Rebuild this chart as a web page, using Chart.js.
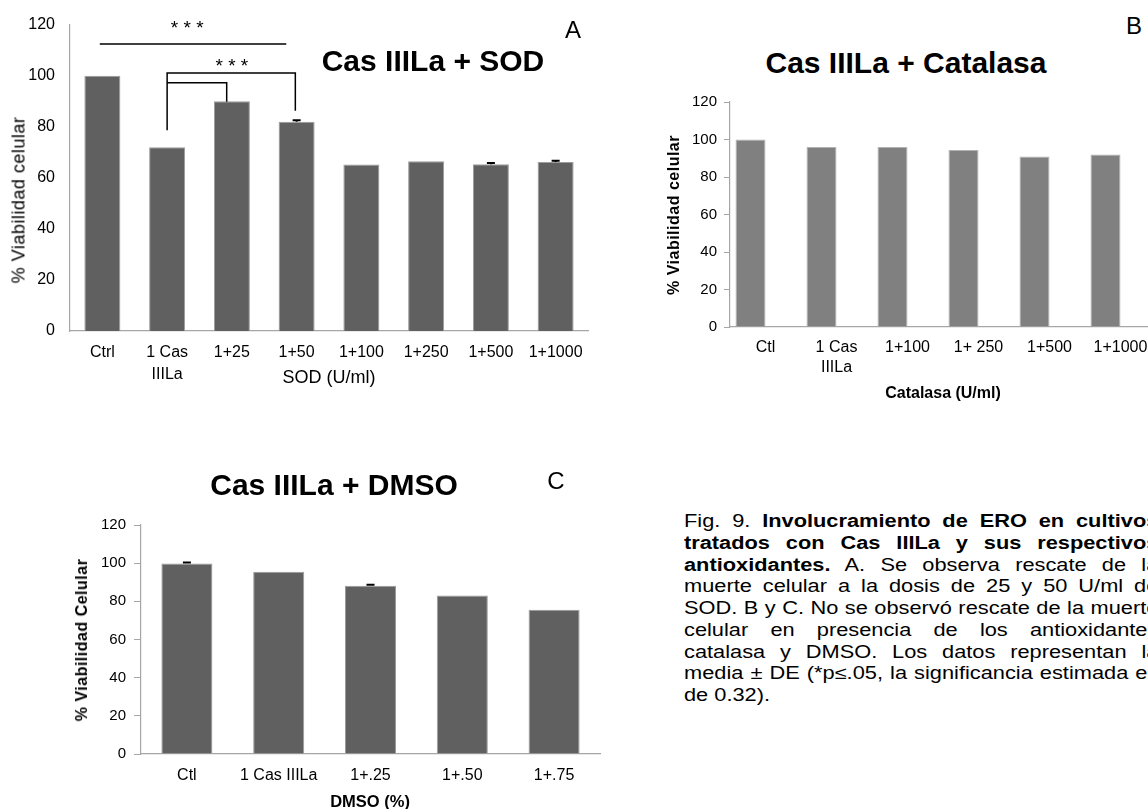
<!DOCTYPE html>
<html>
<head>
<meta charset="utf-8">
<script src="https://cdn.jsdelivr.net/npm/chart.js@4.4.1/dist/chart.umd.min.js"></script>
<style>
  html, body { margin: 0; padding: 0; width: 1148px; height: 809px; overflow: hidden; background: #fff; }
  body { position: relative; font-family: 'Liberation Sans', Arial, sans-serif; color: #000; }
  canvas { position: absolute; display: block; }
  .t { position: absolute; white-space: nowrap; transform: translate(-50%, -50%); z-index: 2; }
  .ttl { font-weight: bold; font-size: 30px; }
  .let { font-size: 24px; }
  .rot { transform: translate(-50%, -50%) rotate(-90deg); }
  #cap { position: absolute; left: 684px; top: 511px; font-size: 17.5px; line-height: 21.75px;
         transform: scaleX(1.245); transform-origin: 0 0; z-index: 2; }
  #cap div { width: 381px; text-align: justify; text-align-last: justify; }
  #cap div.end { text-align-last: left; }
</style>
</head>
<body>
<canvas id="chartA" width="600" height="400" style="left:0;top:0"></canvas>
<canvas id="chartB" width="560" height="330" style="left:620px;top:80px"></canvas>
<canvas id="chartC" width="620" height="309" style="left:0;top:500px"></canvas>

<div class="t ttl" style="left:433px;top:61px">Cas IIILa + SOD</div>
<div class="t let" style="left:573px;top:30px">A</div>
<div class="t rot" style="left:19px;top:200px;font-size:18px;letter-spacing:0.5px">% Viabilidad celular</div>
<div class="t" style="left:329px;top:377px;font-size:18px">SOD (U/ml)</div>

<div class="t ttl" style="left:906px;top:63px">Cas IIILa + Catalasa</div>
<div class="t let" style="left:1134px;top:26px">B</div>
<div class="t rot" style="left:674px;top:215px;font-size:16px;font-weight:bold;letter-spacing:0.5px">% Viabilidad celular</div>
<div class="t" style="left:943px;top:393px;font-size:16px;font-weight:bold">Catalasa (U/ml)</div>

<div class="t ttl" style="left:334px;top:485px">Cas IIILa + DMSO</div>
<div class="t let" style="left:556px;top:481px">C</div>
<div class="t rot" style="left:82px;top:640px;font-size:16px;font-weight:bold;letter-spacing:0.5px">% Viabilidad Celular</div>
<div class="t" style="left:370px;top:801px;font-size:16.5px;font-weight:bold">DMSO (%)</div>

<div id="cap">
  <div>Fig. 9. <b>Involucramiento de ERO en cultivos</b></div>
  <div><b>tratados con Cas IIILa y sus respectivos</b></div>
  <div><b>antioxidantes.</b> A. Se observa rescate de la</div>
  <div>muerte celular a la dosis de 25 y 50 U/ml de</div>
  <div>SOD. B y C. No se observó rescate de la muerte</div>
  <div>celular en presencia de los antioxidantes</div>
  <div>catalasa y DMSO. Los datos representan la</div>
  <div>media ± DE (*p≤.05, la significancia estimada es</div>
  <div class="end">de 0.32).</div>
</div>

<script>
// Valores (% viabilidad celular)
const yMin = 0;
const yMax = 120;
const yStep = 20;

const sodLabels = ['Ctrl', ['1 Cas', 'IIILa'], '1+25', '1+50', '1+100', '1+250', '1+500', '1+1000'];
const sodValues = [100, 72, 90, 82, 65.2, 66.5, 65.3, 66.2];
const sodErrors = [0, 0, 0, 0.5, 0, 0, 0.5, 0.5];

// Líneas de significancia: puntos en (índice de categoría, valor)
const sodSigLines = [
  [[-0.04, 112.4], [2.84, 112.4]],
  [[1, 78.6], [1, 101], [2.98, 101], [2.98, 86.3]],
  [[1, 97.2], [1.92, 97.2], [1.92, 89.8]],
];
const sodSigStars = [[1.31, 116.2], [2.0, 101.6]];

const catLabels = ['Ctl', ['1 Cas', 'IIILa'], '1+100', '1+ 250', '1+500', '1+1000'];
const catValues = [100, 96, 96, 94.4, 91, 92];
const catBlank = [null, null, null, null, null, null];

const dmsoLabels = ['Ctl', '1 Cas IIILa', '1+.25', '1+.50', '1+.75'];
const dmsoValues = [99.8, 95.5, 88.2, 83, 75.6];
const dmsoErrors = [0.5, 0, 0.5, 0, 0];

const FONT = "'Liberation Sans', Arial, sans-serif";
const AXIS = '#a6a6a6';

// Barras de error: solo la parte superior, como en Excel.
const errorBars = {
  id: 'errorBars',
  afterDatasetsDraw(chart, args, opts) {
    if (!opts.errors) return;
    const meta = chart.getDatasetMeta(0);
    const ys = chart.scales.y;
    const ctx = chart.ctx;
    ctx.save();
    ctx.strokeStyle = '#000';
    ctx.lineWidth = 2;
    meta.data.forEach((bar, i) => {
      const e = opts.errors[i];
      if (!e) return;
      const v = chart.data.datasets[0].data[i];
      const top = ys.getPixelForValue(v + e);
      ctx.beginPath();
      ctx.moveTo(bar.x, ys.getPixelForValue(v));
      ctx.lineTo(bar.x, top);
      ctx.moveTo(bar.x - 4, top);
      ctx.lineTo(bar.x + 4, top);
      ctx.stroke();
    });
    ctx.restore();
  },
};

const sigMarks = {
  id: 'sigMarks',
  afterDraw(chart, args, opts) {
    if (!opts.lines) return;
    const { x, y } = chart.scales;
    const ctx = chart.ctx;
    ctx.save();
    ctx.strokeStyle = '#000';
    ctx.lineWidth = 1.5;
    opts.lines.forEach((pts) => {
      ctx.beginPath();
      pts.forEach(([cx, cy], k) => {
        const px = x.getPixelForValue(cx);
        const py = y.getPixelForValue(cy);
        if (k) ctx.lineTo(px, py); else ctx.moveTo(px, py);
      });
      ctx.stroke();
    });
    ctx.fillStyle = '#000';
    ctx.font = '19px ' + FONT;
    ctx.textAlign = 'center';
    ctx.textBaseline = 'alphabetic';
    opts.stars.forEach(([cx, cy]) => ctx.fillText('* * *', x.getPixelForValue(cx), y.getPixelForValue(cy)));
    ctx.restore();
  },
};

function makeChart(id, cfg) {
  return new Chart(document.getElementById(id), {
    type: 'bar',
    data: { labels: cfg.labels, datasets: cfg.datasets },
    plugins: [errorBars, sigMarks],
    options: {
      responsive: false,
      animation: false,
      layout: { padding: cfg.padding },
      plugins: {
        legend: { display: false },
        tooltip: { enabled: false },
        errorBars: { errors: cfg.errors },
        sigMarks: cfg.sig || {},
      },
      scales: {
        x: {
          grid: { display: false, drawTicks: false },
          border: { display: true, color: AXIS, width: 1.2 },
          ticks: {
            autoSkip: false, maxRotation: 0, minRotation: 0, color: '#000', padding: cfg.xPad,
            font: { family: FONT, size: 16, lineHeight: cfg.xLine },
          },
          afterFit: (s) => { s.height = cfg.xHeight; },
        },
        y: {
          min: yMin,
          max: yMax,
          grid: cfg.yTick
            ? { display: true, drawOnChartArea: false, drawTicks: true, tickLength: cfg.yTick, color: AXIS }
            : { display: false, drawTicks: false },
          border: { display: true, color: AXIS, width: 1.2 },
          ticks: { stepSize: yStep, color: '#000', padding: cfg.yPad, font: { family: FONT, size: cfg.yFont } },
          afterFit: (s) => { s.width = cfg.yWidth; },
        },
      },
    },
  });
}

makeChart('chartA', {
  labels: sodLabels,
  datasets: [{
    data: sodValues, backgroundColor: '#606060', borderColor: '#9c9c9c', borderWidth: 1,
    categoryPercentage: 1, barPercentage: 0.556,
  }],
  errors: sodErrors,
  sig: { lines: sodSigLines, stars: sodSigStars },
  padding: { left: 0, right: 12, top: 21, bottom: 0 },
  yWidth: 70, xHeight: 69, xPad: 11, xLine: 1.35, yPad: 15, yFont: 16, yTick: 0,
});

makeChart('chartB', {
  labels: catLabels,
  datasets: [
    { data: catValues, backgroundColor: '#808080', borderColor: '#b4b4b4', borderWidth: 1,
      categoryPercentage: 0.845, barPercentage: 1 },
    { data: catBlank, backgroundColor: '#ffffff', categoryPercentage: 0.845, barPercentage: 1 },
  ],
  padding: { left: 0, right: 24, top: 22, bottom: 0 },
  yWidth: 110, xHeight: 83, xPad: 11, xLine: 1.25, yPad: 7, yFont: 15, yTick: 6,
});

makeChart('chartC', {
  labels: dmsoLabels,
  datasets: [{
    data: dmsoValues, backgroundColor: '#606060', borderColor: '#9c9c9c', borderWidth: 1,
    categoryPercentage: 1, barPercentage: 0.556,
  }],
  errors: dmsoErrors,
  padding: { left: 0, right: 20, top: 25, bottom: 0 },
  yWidth: 141, xHeight: 55, xPad: 12, xLine: 1.2, yPad: 8, yFont: 15, yTick: 7,
});
</script>
</body>
</html>
